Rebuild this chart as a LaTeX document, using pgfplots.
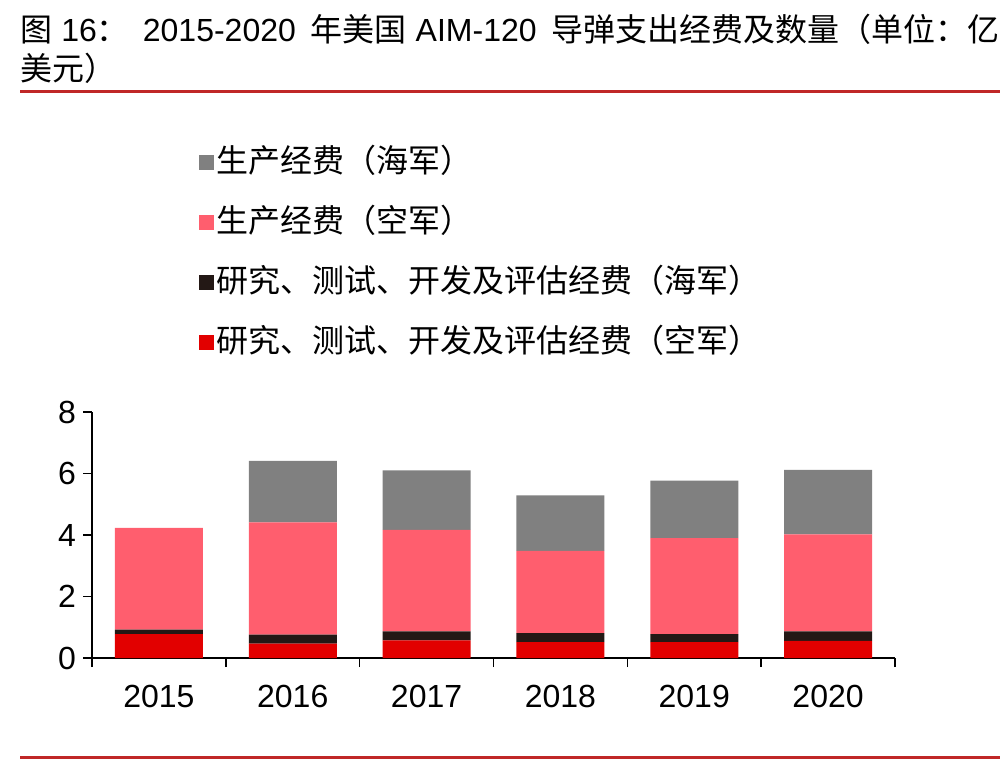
\documentclass[border=0pt]{standalone}
\usepackage{fontspec}
\usepackage{pgfplots}
\pgfplotsset{compat=1.18}
\setmainfont{Liberation Sans}
\newfontfamily\cjk{Noto Sans CJK SC}
\definecolor{cgray}{RGB}{128,128,128}
\definecolor{cpink}{RGB}{255,94,110}
\definecolor{cblack}{RGB}{35,24,21}
\definecolor{cred}{RGB}{226,0,0}
\definecolor{cline}{RGB}{192,40,40}
\begin{document}
\begin{tikzpicture}
\path[use as bounding box] (0pt,0pt) rectangle (500pt,-382pt);
% title
\node[anchor=west,inner sep=0,font=\fontsize{16}{19}\selectfont] at (10pt,-14.5pt) {{\cjk 图} 16{\cjk ：}\hspace{7pt}2015-2020\hspace{3pt} {\cjk 年美国} AIM-120\hspace{3pt} {\cjk 导弹支出经费及数量（单位：亿}};
\node[anchor=west,inner sep=0,font=\fontsize{16}{19}\selectfont\cjk] at (10pt,-34pt) {美元）};
\draw[cline,line width=1.5pt] (10pt,-46pt) -- (500pt,-46pt);
\draw[cline,line width=1.5pt] (10pt,-378.5pt) -- (500pt,-378.5pt);
\begin{axis}[
  at={(46pt,-329pt)}, anchor=south west,
  scale only axis, width=401.5pt, height=123pt,
  ybar stacked, bar width=44pt,
  xmin=-0.5, xmax=5.5, ymin=0, ymax=8,
  axis x line=bottom, axis y line=left,
  axis line style={-, line width=0.75pt, black},
  xtick={-0.5,0.5,1.5,2.5,3.5,4.5,5.5},
  xticklabels={},
  extra x ticks={0,1,2,3,4,5},
  extra x tick labels={2015,2016,2017,2018,2019,2020},
  extra x tick style={major tick length=0pt, xticklabel style={yshift=-10pt}},
  ytick={0,2,4,6,8},
  major tick length=4.5pt,
  tick align=outside,
  tick style={line width=0.75pt,black},
  ticklabel style={font=\fontsize{16}{19}\selectfont},
  /pgf/number format/assume math mode=true,
  legend style={at={(0.125,2.10)}, anchor=north west, draw=none, fill=none,
    font=\fontsize{16}{19}\selectfont\cjk, row sep=13pt,
    nodes={inner sep=1.5pt, text height=12pt, text depth=2pt}},
  legend cell align=left,
  reverse legend,
  legend image code/.code={\fill[#1] (0pt,-3.75pt) rectangle (7.5pt,3.75pt);},
]
\addplot[draw=none, fill=cred] coordinates {(0,0.78) (1,0.47) (2,0.57) (3,0.52) (4,0.52) (5,0.56)};
\addplot[draw=none, fill=cblack] coordinates {(0,0.14) (1,0.29) (2,0.30) (3,0.29) (4,0.26) (5,0.31)};
\addplot[draw=none, fill=cpink] coordinates {(0,3.31) (1,3.65) (2,3.30) (3,2.67) (4,3.12) (5,3.15)};
\addplot[draw=none, fill=cgray] coordinates {(0,0) (1,2.00) (2,1.93) (3,1.81) (4,1.87) (5,2.10)};
\legend{研究、测试、开发及评估经费（空军）,研究、测试、开发及评估经费（海军）,生产经费（空军）,生产经费（海军）}
\end{axis}
\end{tikzpicture}
\end{document}
